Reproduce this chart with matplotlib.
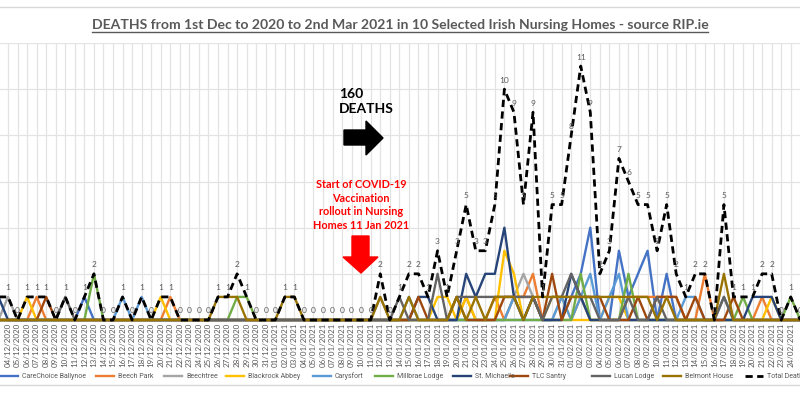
import matplotlib
matplotlib.use("Agg")
import matplotlib.pyplot as plt
from matplotlib.lines import Line2D
from matplotlib.patches import Polygon
from matplotlib import font_manager
import pandas as pd
import numpy as np

plt.rcParams["font.family"] = ["Lato", "DejaVu Sans"]

# one entry per day, 01/12/2020 .. 25/02/2021
dates = pd.date_range("2020-12-01", "2021-02-25").strftime("%d/%m/%Y").tolist()

carechoice = [0,0,0,0,0,0,0,0,0,0, 0,1,0,0,0,0,0,0,0,0, 0,0,0,0,0,0,0,0,0,0,
              0,0,0,0,0,0,0,0,0,0, 0,0,0,0,0,0,0,0,0,0, 0,0,0,0,0,0,0,0,0,0,
              0,0,1,2,4,0,0,3,1,2, 3,0,2,0,0,0,0,0,0,0, 0,0,0,0,0,0,0]
beech_park = [0,0,0,0,0,0,1,0,0,0, 0,0,0,0,0,0,0,0,0,0, 1,0,0,0,0,0,0,0,0,0,
              0,0,0,0,0,0,0,0,0,0, 0,0,0,0,0,0,0,0,0,0, 0,1,0,0,1,0,1,1,2,0,
              0,0,0,1,0,0,0,0,1,1, 1,1,1,1,0,0,2,0,1,0, 0,0,1,0,0,0,0]
beechtree = [0,0,0,1,0,0,0,0,0,0, 0,0,0,0,0,0,0,0,0,0, 0,0,0,0,0,0,0,0,0,0,
             0,0,0,0,0,0,0,0,0,0, 0,0,1,0,0,0,0,0,0,0, 0,0,0,0,0,0,1,2,1,0,
             0,1,1,1,0,0,0,0,0,0, 0,0,0,0,0,0,0,0,0,0, 0,0,0,0,0,0,0]
blackrock = [0,0,0,0,0,1,0,0,0,0, 0,0,0,0,0,0,0,0,0,1, 0,0,0,0,0,0,0,0,0,0,
             0,0,0,0,0,0,0,0,0,0, 0,0,0,0,0,0,0,0,1,1, 0,1,0,0,0,3,2,0,1,0,
             1,1,0,0,0,0,1,1,0,0, 0,0,0,0,0,0,0,0,0,0, 0,0,0,1,0,0,0]
carysfort = [0,0,0,0,0,0,0,0,0,0, 0,0,0,0,0,1,0,1,0,0, 0,0,0,0,0,0,0,0,0,0,
             0,0,0,0,0,0,0,0,0,0, 0,0,0,0,0,1,0,0,0,0, 0,0,0,0,0,0,1,0,1,0,
             0,1,0,1,2,0,1,2,0,0, 0,0,0,0,1,1,0,0,1,0, 0,0,0,0,0,0,0]
millbrae = [0,0,0,0,0,0,0,0,0,0, 0,0,2,0,0,0,0,0,0,0, 0,0,0,0,0,0,0,1,1,0,
            0,0,0,0,0,0,0,0,0,0, 0,0,0,0,0,0,0,0,0,0, 0,0,0,0,0,0,0,0,0,0,
            0,0,0,2,0,0,0,0,2,0, 0,0,0,0,0,0,0,0,0,0, 1,0,0,0,0,1,0]
st_michaels = [0,0,1,0,0,0,0,0,0,0, 0,0,0,0,0,0,0,0,0,0, 0,0,0,0,0,0,0,0,0,0,
               0,0,0,0,0,0,0,0,0,0, 0,0,0,0,0,0,1,1,0,0, 0,2,1,2,2,4,1,0,1,0,
               0,0,2,1,0,0,0,0,0,0, 0,0,0,0,0,0,0,0,0,0, 0,1,1,1,0,0,0]
tlc_santry = [0,0,0,0,0,0,0,1,0,0, 0,0,0,0,0,0,0,0,0,0, 0,0,0,0,0,0,0,0,0,0,
              0,0,0,0,0,0,0,0,0,0, 0,0,0,0,0,0,1,0,0,0, 1,0,0,0,0,1,1,1,1,0,
              2,0,1,1,1,1,0,0,0,1, 0,1,1,1,0,1,0,0,0,1, 0,0,0,0,0,0,0]
lucan = [0,1,0,0,0,0,0,0,0,1, 0,0,0,0,0,0,0,0,0,0, 0,0,0,0,0,0,0,0,0,0,
         0,0,0,0,0,0,0,0,0,0, 0,0,0,0,1,0,0,0,2,0, 1,1,1,1,1,1,1,1,1,0,
         1,1,2,1,1,0,0,0,1,0, 0,1,0,0,0,0,0,0,1,0, 0,0,0,0,0,0,0]
belmont = [0,0,0,0,0,0,0,0,0,0, 0,0,0,0,0,0,0,0,0,0, 0,0,0,0,0,1,1,1,0,0,
           0,0,1,1,0,0,0,0,0,0, 0,0,1,0,0,1,0,0,0,0, 1,0,1,0,1,1,1,0,1,1,
           1,1,1,1,1,1,1,1,1,1, 1,0,1,0,0,0,0,0,2,0, 0,0,0,0,0,0,0]
total = [0,1,1,1,0,1,1,1,0,1, 0,1,2,0,0,1,0,1,0,1, 1,0,0,0,0,1,1,2,1,0,
         0,0,1,1,0,0,0,0,0,0, 0,0,2,0,1,2,2,1,3,1, 3,5,3,3,5,10,9,5,9,1,
         5,5,8,11,9,2,3,7,6,5, 5,3,5,2,1,2,2,0,5,1, 1,1,2,2,0,1,0]

homes = ["CareChoice Ballynoe", "Beech Park", "Beechtree", "Blackrock Abbey",
         "Carysfort", "Millbrae Lodge", "St. Michael's", "TLC Santry",
         "Lucan Lodge", "Belmont House"]
series = [carechoice, beech_park, beechtree, blackrock, carysfort,
          millbrae, st_michaels, tlc_santry, lucan, belmont]
colors = ["#4472C4", "#ED7D31", "#A5A5A5", "#FFC000", "#5B9BD5",
          "#70AD47", "#264478", "#9E480E", "#636363", "#997300"]

W, H = 800, 396
fig = plt.figure(figsize=(W / 100, H / 100), dpi=100)
renderer = fig.canvas.get_renderer()

# narrow face for the legend if one is installed
installed = {f.name for f in font_manager.fontManager.ttflist}
narrow = "Liberation Sans Narrow" if "Liberation Sans Narrow" in installed else "Roboto"


def fx(px):
    return px / W


def fy(py):
    return 1 - py / H


def fit_width(txt, width_px):
    # shrink/grow a text so it spans roughly the same width as in the reference
    w = txt.get_window_extent(renderer).width
    txt.set_fontsize(txt.get_fontsize() * width_px / w)


ax = fig.add_axes([0, fy(320), 1, (320 - 43) / H])
x = np.arange(len(dates))

for name, vals, c in zip(homes, series, colors):
    ax.plot(x, vals, color=c, lw=1.7, clip_on=False, zorder=3)
ax.plot(x, total, color="black", lw=2.0, ls=(0, (2.6, 1.6)), clip_on=False, zorder=4)

for i, v in enumerate(total):
    ax.annotate(str(v), (x[i], v), xytext=(0, 4), textcoords="offset points",
                ha="center", va="bottom", fontsize=6, color="#595959", zorder=5)

ax.set_yticks(np.arange(0, 13, 2))
ax.set_yticklabels([])
ax.set_xticks(x)
ax.set_xticklabels(dates, rotation=90, fontsize=5.8, color="#595959")
ax.set_xlim(2.16, 85.97)
ax.set_ylim(0, 12)
ax.tick_params(length=0, pad=2)
ax.grid(True, color="#e3e3e3", lw=0.9)
ax.set_axisbelow(True)
for s in ax.spines.values():
    s.set_visible(False)

# chart area border lines
fig.add_artist(Line2D([0, 1], [fy(7), fy(7)], color="#d9d9d9", lw=1))
fig.add_artist(Line2D([0, 1], [fy(385), fy(385)], color="#d9d9d9", lw=1))

title = fig.text(0.5, fy(25), "DEATHS from 1st Dec to 2020 to 2nd Mar 2021 in 10 Selected Irish "
                 "Nursing Homes - source RIP.ie", ha="center", va="center",
                 fontsize=10.5, fontweight="bold", color="#595959")
fit_width(title, 615)
bb = title.get_window_extent(renderer)
fig.add_artist(Line2D([bb.x0 / W, bb.x1 / W], [fy(31.5), fy(31.5)],
                      color="#595959", lw=1))

# 160 deaths note and arrow
fig.text(fx(339), fy(88), "160\nDEATHS", ha="left", va="top", fontsize=10,
         fontweight="bold", color="black", linespacing=1.3)
arrow = [(344, 130), (366, 130), (366, 121), (383, 138), (366, 155), (366, 145), (344, 145)]
fig.add_artist(Polygon([(fx(a), fy(b)) for a, b in arrow], closed=True,
                       transform=fig.transFigure, color="black"))

fig.text(fx(361), fy(205), "Start of COVID-19\nVaccination\nrollout in Nursing\nHomes 11 Jan 2021",
         ha="center", va="center", fontsize=7.8, fontweight="bold", color="#ff0000",
         linespacing=1.28)
red = [(352, 236), (369, 236), (369, 257), (378, 257), (361, 273), (343, 257), (352, 257)]
fig.add_artist(Polygon([(fx(a), fy(b)) for a, b in red], closed=True,
                       transform=fig.transFigure, color="#ff0000"))

# legend, laid out like the reference (it runs off the right edge)
legend_x = [22, 118, 186, 248, 335, 397, 475, 532, 614, 685, 767]
names = homes + ["Total Deaths"]
lcolors = colors + ["black"]
probe = fig.text(0, 0, names[0], fontsize=6, family=[narrow, "DejaVu Sans"])
fit_width(probe, 64)
leg_size = min(probe.get_fontsize(), 7.2)
probe.remove()
for lx, name, c in zip(legend_x, names, lcolors):
    ls = (0, (2.6, 1.6)) if name == "Total Deaths" else "-"
    fig.add_artist(Line2D([fx(lx - 22), fx(lx - 4)], [fy(376), fy(376)],
                          color=c, lw=2.0 if name == "Total Deaths" else 1.7, ls=ls))
    fig.text(fx(lx), fy(376), name, ha="left", va="center", fontsize=leg_size,
             color="#595959", family=[narrow, "DejaVu Sans"])

fig.savefig("out.png", dpi=100)
